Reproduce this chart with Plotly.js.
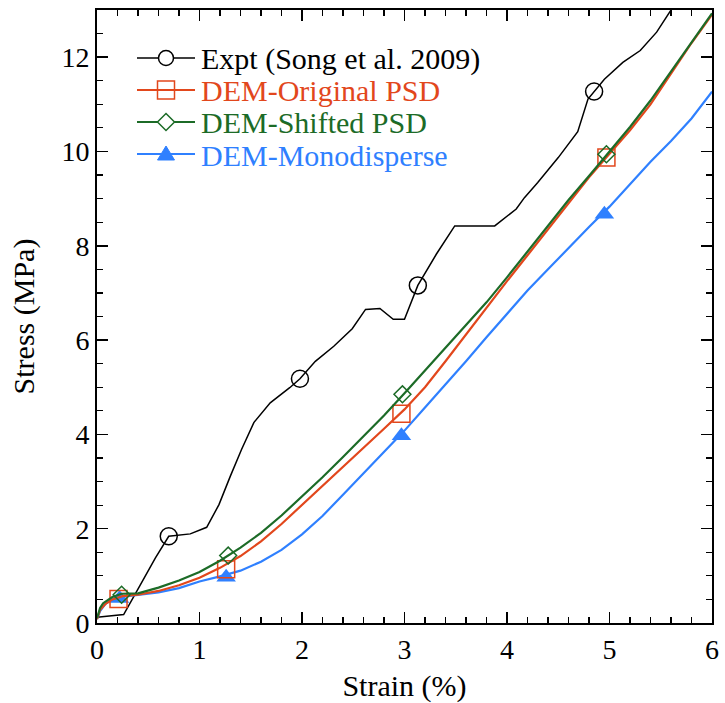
<!DOCTYPE html>
<html>
<head>
<meta charset="utf-8">
<script src="https://cdn.plot.ly/plotly-3.0.1.min.js"></script>
<style>html,body{margin:0;padding:0;background:#fff;}#chart{width:725px;height:703px;}</style>
</head>
<body>
<div id="chart"></div>
<script>
// ---- Data ----
var seriesNames = ["Expt (Song et al. 2009)", "DEM-Original PSD", "DEM-Shifted PSD", "DEM-Monodisperse"];

var exptX = [0, 0.26, 0.42, 0.57, 0.70, 0.91, 1.07, 1.19, 1.30, 1.41, 1.53, 1.69, 1.88, 1.98, 2.13, 2.31, 2.49, 2.62, 2.76, 2.89, 3.00, 3.13, 3.31, 3.49, 3.88, 4.09, 4.17, 4.30, 4.50, 4.69, 4.79, 4.85, 4.95, 5.13, 5.30, 5.46, 5.60, 5.63];
var exptY = [0.12, 0.18, 0.80, 1.38, 1.84, 1.89, 2.03, 2.51, 3.11, 3.68, 4.25, 4.67, 4.99, 5.18, 5.55, 5.87, 6.24, 6.65, 6.67, 6.44, 6.44, 7.16, 7.82, 8.42, 8.42, 8.78, 9.02, 9.34, 9.87, 10.42, 11.11, 11.27, 11.53, 11.89, 12.14, 12.53, 12.99, 13.1];
var exptMarkX = [0.70, 1.98, 3.13, 4.85];
var exptMarkY = [1.84, 5.18, 7.16, 11.27];

var origX = [0, 0.03, 0.08, 0.15, 0.25, 0.4, 0.6, 0.8, 1.0, 1.2, 1.4, 1.6, 1.8, 2.0, 2.2, 2.4, 2.6, 2.8, 3.0, 3.2, 3.4, 3.6, 3.8, 4.0, 4.2, 4.4, 4.6, 4.8, 5.0, 5.2, 5.4, 5.6, 5.8, 6.0];
var origY = [0.08, 0.28, 0.40, 0.50, 0.57, 0.60, 0.68, 0.80, 0.96, 1.17, 1.42, 1.73, 2.10, 2.50, 2.90, 3.30, 3.71, 4.12, 4.53, 5.00, 5.55, 6.12, 6.70, 7.25, 7.80, 8.35, 8.92, 9.45, 9.95, 10.45, 11.00, 11.65, 12.30, 12.90];
var origMarkX = [0.21, 1.26, 2.97, 4.97];
var origMarkY = [0.51, 1.14, 4.44, 9.87];

var shiftX = [0, 0.03, 0.06, 0.15, 0.24, 0.4, 0.6, 0.8, 1.0, 1.2, 1.4, 1.6, 1.8, 2.0, 2.2, 2.4, 2.6, 2.8, 3.0, 3.2, 3.4, 3.6, 3.8, 4.0, 4.2, 4.4, 4.6, 4.8, 5.0, 5.2, 5.4, 5.6, 5.8, 6.0];
var shiftY = [0.10, 0.32, 0.42, 0.55, 0.62, 0.63, 0.75, 0.90, 1.08, 1.32, 1.60, 1.91, 2.28, 2.68, 3.09, 3.52, 3.95, 4.40, 4.87, 5.35, 5.83, 6.31, 6.80, 7.33, 7.88, 8.43, 8.97, 9.48, 10.00, 10.52, 11.08, 11.70, 12.33, 12.93];
var shiftMarkX = [0.24, 1.28, 2.98, 4.97];
var shiftMarkY = [0.60, 1.43, 4.85, 9.94];

var monoX = [0, 0.03, 0.08, 0.15, 0.22, 0.4, 0.6, 0.8, 1.0, 1.2, 1.4, 1.6, 1.8, 2.0, 2.2, 2.4, 2.6, 2.8, 3.0, 3.2, 3.4, 3.6, 3.8, 4.0, 4.2, 4.4, 4.6, 4.8, 5.0, 5.2, 5.4, 5.6, 5.8, 6.0];
var monoY = [0.08, 0.25, 0.40, 0.50, 0.55, 0.59, 0.65, 0.74, 0.88, 0.99, 1.11, 1.30, 1.55, 1.88, 2.27, 2.72, 3.18, 3.63, 4.08, 4.57, 5.05, 5.55, 6.06, 6.56, 7.05, 7.50, 7.96, 8.40, 8.83, 9.30, 9.78, 10.22, 10.70, 11.27];
var monoMarkX = [0.22, 1.26, 2.97, 4.95];
var monoMarkY = [0.52, 0.97, 3.97, 8.67];

var xTickVals = [0, 1, 2, 3, 4, 5, 6];
var yTickVals = [0, 2, 4, 6, 8, 10, 12];

// ---- Styles ----
var FONT = "'Liberation Serif', 'Times New Roman', serif";
var cBlack = "#000000", cOrange = "#e2471c", cGreen = "#1c6b27", cBlue = "#2f80ff";

var traces = [
  {x: exptX, y: exptY, mode: "lines", line: {color: cBlack, width: 1.5}, showlegend: false},
  {x: exptMarkX, y: exptMarkY, mode: "markers", marker: {symbol: "circle-open", size: 17, color: cBlack, line: {width: 1.5}}, showlegend: false},
  {x: monoX, y: monoY, mode: "lines", line: {color: cBlue, width: 2.2}, showlegend: false},
  {x: monoMarkX, y: monoMarkY, mode: "markers", marker: {symbol: "triangle-up", size: 17, color: cBlue}, showlegend: false},
  {x: origX, y: origY, mode: "lines", line: {color: cOrange, width: 2.2}, showlegend: false},
  {x: origMarkX, y: origMarkY, mode: "markers", marker: {symbol: "square-open", size: 17, color: cOrange, line: {width: 1.5}}, showlegend: false},
  {x: shiftX, y: shiftY, mode: "lines", line: {color: cGreen, width: 2.2}, showlegend: false},
  {x: shiftMarkX, y: shiftMarkY, mode: "markers", marker: {symbol: "diamond-open", size: 13, color: cGreen, line: {width: 1.5}}, showlegend: false}
];

// ---- Manual legend (paper coords) ----
var L = 97, T = 10, W = 615, H = 613;
function px2paperX(p) { return (p - L) / W; }
function px2paperY(p) { return (T + H - p) / H; }
var rowsPx = [58, 90, 122, 154];
var colors = [cBlack, cOrange, cGreen, cBlue];
var lineX0 = px2paperX(137), lineX1 = px2paperX(195), markX = px2paperX(166), textX = px2paperX(199);

var shapes = [];
var annotations = [];
rowsPx.forEach(function (ry, i) {
  var yy = px2paperY(ry);
  shapes.push({type: "line", xref: "paper", yref: "paper", x0: lineX0, x1: lineX1, y0: yy, y1: yy,
               line: {color: colors[i], width: i === 0 ? 1.5 : 2}});
  var base = {xref: "paper", yref: "paper", xsizemode: "pixel", ysizemode: "pixel", xanchor: markX, yanchor: yy};
  var s;
  if (i === 0) s = Object.assign({type: "circle", x0: -7.5, x1: 7.5, y0: -7.5, y1: 7.5, fillcolor: "white", line: {color: colors[i], width: 1.5}}, base);
  if (i === 1) s = Object.assign({type: "rect", x0: -8.5, x1: 8.5, y0: -9, y1: 9, fillcolor: "rgba(0,0,0,0)", line: {color: colors[i], width: 1.5}}, base);
  if (i === 2) s = Object.assign({type: "path", path: "M0,8.5 L8.5,0 L0,-8.5 L-8.5,0 Z", fillcolor: "white", line: {color: colors[i], width: 1.5}}, base);
  if (i === 3) s = Object.assign({type: "path", path: "M-8.5,-6 L8.5,-6 L0,8 Z", fillcolor: colors[i], line: {color: colors[i], width: 1}}, base);
  shapes.push(s);
  annotations.push({xref: "paper", yref: "paper", x: textX, y: px2paperY(ry + 1), xanchor: "left", yanchor: "middle",
                    text: seriesNames[i], showarrow: false, font: {family: FONT, size: 30, color: colors[i]}});
});

var axisCommon = {
  showline: true, linecolor: "black", linewidth: 2, mirror: "allticks",
  ticks: "inside", ticklen: 11, tickwidth: 1.5, tickcolor: "black",
  showgrid: false, zeroline: false,
  tickfont: {family: FONT, size: 28, color: "black"}
};

var layout = {
  width: 725, height: 703,
  margin: {l: L, r: 725 - L - W, t: T, b: 703 - T - H},
  paper_bgcolor: "white", plot_bgcolor: "white",
  showlegend: false,
  xaxis: Object.assign({}, axisCommon, {
    range: [0, 6], tickvals: xTickVals, ticktext: xTickVals.map(String),
    minor: {dtick: 0.2, ticks: "inside", ticklen: 6, tickwidth: 1.2, tickcolor: "black", showgrid: false},
    title: {text: "Strain (%)", font: {family: FONT, size: 30, color: "black"}, standoff: 12}
  }),
  yaxis: Object.assign({}, axisCommon, {
    range: [0, 13], tickvals: yTickVals, ticktext: yTickVals.map(String),
    minor: {dtick: 0.5, ticks: "inside", ticklen: 6, tickwidth: 1.2, tickcolor: "black", showgrid: false},
    title: {text: "Stress (MPa)", font: {family: FONT, size: 30, color: "black"}, standoff: 18}
  }),
  shapes: shapes,
  annotations: annotations
};

Plotly.newPlot("chart", traces, layout, {staticPlot: true, displayModeBar: false});
</script>
</body>
</html>
